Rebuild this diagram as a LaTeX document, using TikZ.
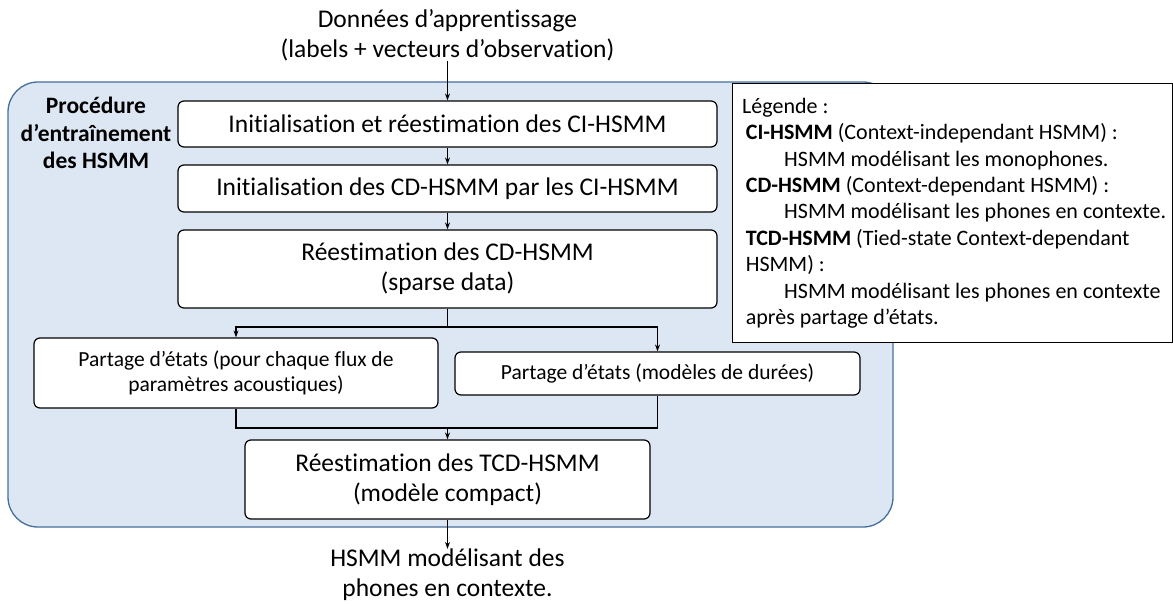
\documentclass[tikz,border=0pt]{standalone}
\usepackage{fontspec}
\setmainfont{Carlito}[Ligatures={TeX,NoCommon}]
\usetikzlibrary{arrows.meta}
\definecolor{panelfill}{RGB}{221,231,243}
\definecolor{paneledge}{RGB}{70,110,155}
\tikzset{
  stepbox/.style={draw=black, fill=white, rounded corners=6pt, line width=1.2pt,
    align=center, inner sep=0pt},
  bigfont/.style={font=\fontsize{25.5}{30}\selectfont},
  smallfont/.style={font=\fontsize{21.5}{25.6}\selectfont},
  flow/.style={line width=1.1pt, -{Stealth[length=7pt,width=5pt]}},
  link/.style={line width=1.1pt},
}
\begin{document}
\begin{tikzpicture}[x=1pt,y=-1pt]
\useasboundingbox (0,0) rectangle (1173,603);
% training panel
\node[draw=paneledge, fill=panelfill, line width=1.3pt, rounded corners=30pt,
      minimum width=885pt, minimum height=445pt, inner sep=0pt] (panel) at (450.5,304.5) {};
\node[font=\fontsize{23.5}{27.5}\selectfont\bfseries, align=center] (proc) at (96,133)
  {Procédure\\d’entraînement\\des HSMM};
% input / output texts
\node[bigfont, align=center, inner sep=0pt] (data) at (447.5,35)
  {Données d’apprentissage\\(labels + vecteurs d’observation)};
\node[bigfont, align=center, inner sep=0pt] (out) at (447.5,575)
  {HSMM modélisant des\\phones en contexte.};
% steps
\node[stepbox, bigfont, minimum width=539pt, minimum height=46pt] (b1) at (447.5,124)
  {Initialisation et réestimation des CI-HSMM};
\node[stepbox, bigfont, minimum width=539pt, minimum height=47pt] (b2) at (447.5,188.5)
  {Initialisation des CD-HSMM par les CI-HSMM};
\node[stepbox, bigfont, minimum width=539pt, minimum height=78pt] (b3) at (447.5,269)
  {Réestimation des CD-HSMM\\(sparse data)};
\node[stepbox, smallfont, minimum width=404pt, minimum height=70pt] (b4) at (236,373)
  {Partage d’états (pour chaque flux de\\paramètres acoustiques)};
\node[stepbox, smallfont, minimum width=405pt, minimum height=43pt] (b5) at (657.5,373.5)
  {Partage d’états (modèles de durées)};
\node[stepbox, bigfont, minimum width=405pt, minimum height=79pt] (b6) at (447.5,479.5)
  {Réestimation des TCD-HSMM\\(modèle compact)};
% legend
\node[draw=black, fill=white, line width=1.2pt, anchor=north west,
      minimum width=440pt, minimum height=259pt, inner sep=0pt] (legend) at (732,83) {};
\node[anchor=west, align=flush left, inner sep=0pt,
      font=\fontsize{22}{26.4}\selectfont] (legendtext) at ([xshift=10pt]legend.west)
  {Légende :\\
   \,\textbf{CI-HSMM} (Context-independant HSMM) :\\
   \hspace*{42pt}HSMM modélisant les monophones.\\
   \,\textbf{CD-HSMM} (Context-dependant HSMM) :\\
   \hspace*{42pt}HSMM modélisant les phones en contexte.\\
   \,\textbf{TCD-HSMM} (Tied-state Context-dependant\\
   \,HSMM) :\\
   \hspace*{42pt}HSMM modélisant les phones en contexte\\
   \,après partage d’états.};
% connectors
\coordinate (split) at (447.5,327);
\coordinate (merge) at (447.5,428);
\draw[flow] (data) -- (b1);
\draw[flow] (b1) -- (b2);
\draw[flow] (b2) -- (b3);
\draw[link] (b3.south) -- (split);
\draw[flow] (split) -| (b4.north);
\draw[flow] (split) -| (b5.north);
\draw[link] (b4.south) |- (merge);
\draw[link] (b5.south) |- (merge);
\draw[flow] (merge) -- (b6.north);
\draw[flow] (b6.south) -- (out.north);
\end{tikzpicture}
\end{document}
